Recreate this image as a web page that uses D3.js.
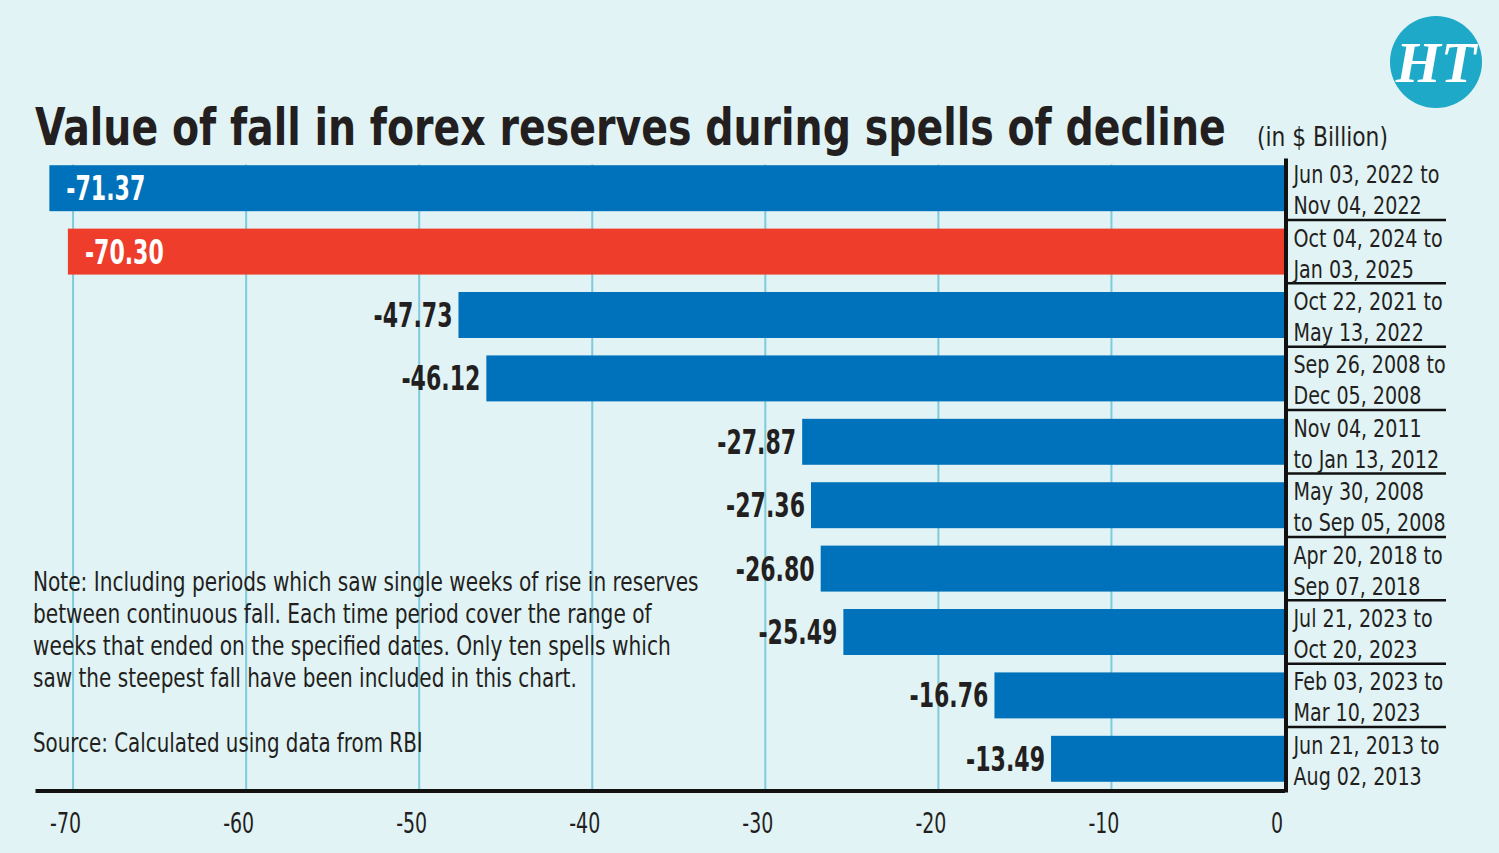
<!DOCTYPE html>
<html>
<head>
<meta charset="utf-8">
<script src="https://cdn.jsdelivr.net/npm/d3@7"></script>
<style>
  html, body { margin: 0; padding: 0; background: #e1f3f5; }
  svg { display: block; }
  text { font-family: "Liberation Sans Narrow", "Arial Narrow", "DejaVu Sans Condensed", sans-serif; }
</style>
</head>
<body>
<svg id="chart" width="1499" height="853"></svg>
<script>
// ---- data ----
const periodStart = ["Jun 03, 2022 to", "Oct 04, 2024 to", "Oct 22, 2021 to", "Sep 26, 2008 to", "Nov 04, 2011",
                     "May 30, 2008", "Apr 20, 2018 to", "Jul 21, 2023 to", "Feb 03, 2023 to", "Jun 21, 2013 to"];
const periodEnd = ["Nov 04, 2022", "Jan 03, 2025", "May 13, 2022", "Dec 05, 2008", "to Jan 13, 2012",
                   "to Sep 05, 2008", "Sep 07, 2018", "Oct 20, 2023", "Mar 10, 2023", "Aug 02, 2013"];
const values = [-71.37, -70.30, -47.73, -46.12, -27.87, -27.36, -26.80, -25.49, -16.76, -13.49];
const highlighted = ["Oct 04, 2024 to"];
const tickValues = [-70, -60, -50, -40, -30, -20, -10, 0];
const titleText = "Value of fall in forex reserves during spells of decline";
const unitText = "(in $ Billion)";
const noteLines = [
  "Note: Including periods which saw single weeks of rise in reserves",
  "between continuous fall. Each time period cover the range of",
  "weeks that ended on the specified dates. Only ten spells which",
  "saw the steepest fall have been included in this chart."
];
const sourceText = "Source: Calculated using data from RBI";

// ---- styles ----
const BG = "#e1f3f5", BLUE = "#0072bb", RED = "#ee3d2b", GRID = "#7fcbdc", INK = "#231f20";
const FONT = '"Liberation Sans Narrow", "Arial Narrow", "DejaVu Sans Condensed", sans-serif';

const svg = d3.select("#chart");
svg.append("rect").attr("width", 1499).attr("height", 853).attr("fill", BG);

// measure helper (natural width of a string at a given size/weight)
function measure(str, size, weight) {
  const t = svg.append("text").attr("font-size", size).attr("font-weight", weight || "normal")
    .style("font-family", FONT).text(str);
  const w = t.node().getComputedTextLength();
  t.remove();
  return w;
}
// place a text at (x,y) with a horizontal condensing factor
function place(sel, x, y, f) {
  sel.attr("x", null).attr("y", null).attr("transform", `translate(${x},${y}) scale(${f},1)`);
}

const rows = values.map((v, i) => ({ v, a: periodStart[i], b: periodEnd[i], i }));

const x = d3.scaleLinear().domain([-72.2, 0]).range([35, 1284.5]);
const y = d3.scaleBand().domain(rows.map(d => d.i)).range([156.5, 790.5]).paddingInner(0.275).paddingOuter(0.1375);
const axisY = 790.5;

// condensing factors from reference sample widths
const fVal = 79 / measure("-47.73", 34, "bold");
const fDate = 146 / measure("Jun 03, 2022 to", 25.5);
const fTick = 31 / measure("-70", 29);

// gridlines
svg.append("g").selectAll("line").data(tickValues.filter(t => t !== 0)).join("line")
  .attr("x1", d => x(d)).attr("x2", d => x(d))
  .attr("y1", y.range()[0] + 8).attr("y2", axisY)
  .attr("stroke", GRID).attr("stroke-width", 2);

// bars
svg.append("g").selectAll("rect").data(rows).join("rect")
  .attr("x", d => x(d.v)).attr("width", d => x(0) + 1.5 - x(d.v))
  .attr("y", d => y(d.i)).attr("height", y.bandwidth())
  .attr("fill", d => highlighted.includes(d.a) ? RED : BLUE);

// value labels
svg.append("g").selectAll("text").data(rows).join("text")
  .attr("text-anchor", d => d.v < -60 ? "start" : "end")
  .attr("font-size", 34).attr("font-weight", "bold")
  .attr("fill", d => d.v < -60 ? "#ffffff" : INK)
  .text(d => d.v.toFixed(2))
  .each(function (d) {
    place(d3.select(this), d.v < -60 ? x(d.v) + 17 : x(d.v) - 6, y(d.i) + y.bandwidth() / 2 + 12, fVal);
  });

// axis
const axis = svg.append("g").attr("transform", `translate(0,${axisY})`)
  .call(d3.axisBottom(x).tickValues(tickValues).tickSize(0).tickFormat(d => String(d)));
axis.select(".domain").attr("stroke", "#111").attr("stroke-width", 4);
axis.selectAll(".tick text").attr("dy", null).attr("font-size", 29).attr("fill", INK)
  .style("font-family", FONT)
  .each(function () { place(d3.select(this), -8, 42, fTick); });

// right vertical rule
svg.append("line").attr("x1", x(0) + 1.5).attr("x2", x(0) + 1.5)
  .attr("y1", y.range()[0] + 2).attr("y2", axisY + 2)
  .attr("stroke", "#111").attr("stroke-width", 4);

// separators between period labels
const gap = y.step() - y.bandwidth();
svg.append("g").selectAll("line").data(rows.slice(0, -1)).join("line")
  .attr("x1", x(0)).attr("x2", 1446)
  .attr("y1", d => y(d.i) + y.bandwidth() + gap / 2)
  .attr("y2", d => y(d.i) + y.bandwidth() + gap / 2)
  .attr("stroke", "#111").attr("stroke-width", 2.5);

// period labels
const lab = svg.append("g").selectAll("text").data(rows).join("text")
  .attr("font-size", 25.5).attr("fill", INK)
  .attr("transform", d => `translate(${x(0) + 9},${y(d.i) + y.bandwidth() / 2}) scale(${fDate},1)`);
lab.append("tspan").attr("x", 0).attr("y", -5).text(d => d.a);
lab.append("tspan").attr("x", 0).attr("y", 26).text(d => d.b);

// title
const title = svg.append("text").attr("font-size", 51).attr("font-weight", "bold").attr("fill", INK).text(titleText);
place(title, 35, 145, 1191 / measure(titleText, 51, "bold"));
const unit = svg.append("text").attr("font-size", 27).attr("fill", INK).text(unitText);
place(unit, 1257, 146, 131 / measure(unitText, 27));

// note
const noteW = [666, 619, 638, 544];
svg.append("g").selectAll("text").data(noteLines).join("text")
  .attr("font-size", 26.5).attr("fill", INK)
  .text(d => d)
  .each(function (d, i) { place(d3.select(this), 33, 591 + i * 32, noteW[i] / measure(d, 26.5)); });
const src = svg.append("text").attr("font-size", 26.5).attr("fill", INK).text(sourceText);
place(src, 33, 752, 390 / measure(sourceText, 26.5));

// HT logo
const logo = svg.append("g").attr("transform", "translate(1436,62)");
logo.append("circle").attr("r", 46).attr("fill", "#1fa9c8");
logo.append("text").attr("text-anchor", "middle").attr("y", 20)
  .attr("font-size", 58).attr("font-weight", "bold").attr("font-style", "italic")
  .style("font-family", '"Liberation Serif", "DejaVu Serif", serif')
  .attr("fill", "#fff").text("HT");
</script>
</body>
</html>
